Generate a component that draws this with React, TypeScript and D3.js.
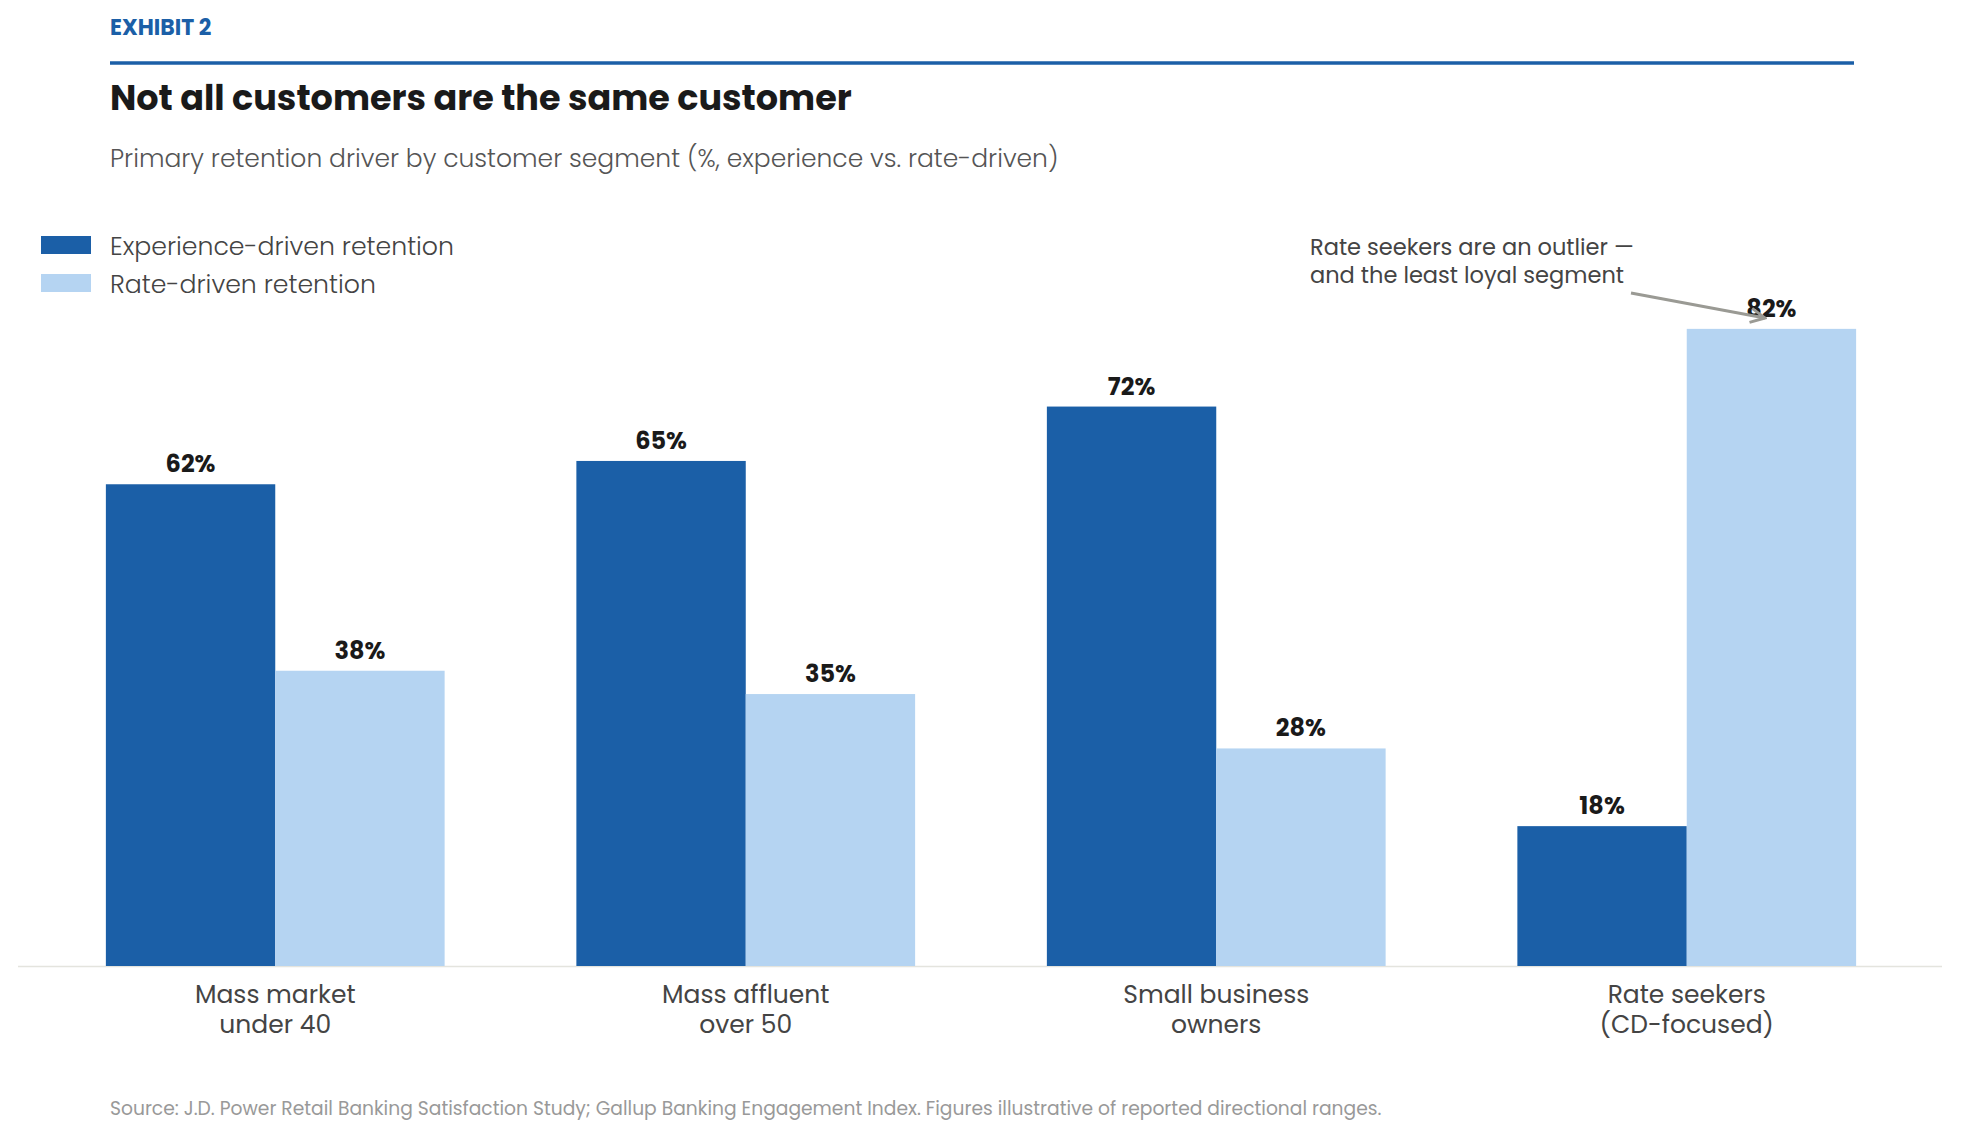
import React, { useEffect, useRef } from "react";
import * as d3 from "d3";

// data
const categories = ["Mass market|under 40", "Mass affluent|over 50", "Small business|owners", "Rate seekers|(CD-focused)"];
const seriesNames = ["Experience-driven retention", "Rate-driven retention"];
const experienceDriven = [62, 65, 72, 18];
const rateDriven = [38, 35, 28, 82];
const annotationLines = ["Rate seekers are an outlier \u2014", "and the least loyal segment"];

const W = 1961;
const H = 1138;
const FONT = "Poppins, Inter, 'Open Sans', sans-serif";
const DARK = "#1b5fa7";
const LIGHT = "#b5d4f2";

const App = () => {
  const ref = useRef<SVGSVGElement | null>(null);

  useEffect(() => {
    drawChart();
  }, []);

  function drawChart() {
    const svg = d3.select(ref.current);
    svg.selectAll("*").remove();

    // header
    svg.append("text").attr("x", 110).attr("y", 35).text("EXHIBIT 2")
      .attr("font-family", FONT).attr("font-size", 22).attr("font-weight", 700).attr("fill", DARK);
    svg.append("line").attr("x1", 110).attr("x2", 1854).attr("y1", 63).attr("y2", 63)
      .attr("stroke", DARK).attr("stroke-width", 3.5);
    svg.append("text").attr("x", 110).attr("y", 110).text("Not all customers are the same customer")
      .attr("font-family", FONT).attr("font-size", 35).attr("font-weight", 700).attr("fill", "#1a1a1a");
    svg.append("text").attr("x", 110).attr("y", 167)
      .text("Primary retention driver by customer segment (%, experience vs. rate-driven)")
      .attr("font-family", FONT).attr("font-size", 25).attr("font-weight", 300).attr("fill", "#555");

    // legend
    const colors = [DARK, LIGHT];
    seriesNames.forEach((name, i) => {
      svg.append("rect").attr("x", 41).attr("y", 236 + i * 38).attr("width", 50).attr("height", 18).attr("fill", colors[i]);
      svg.append("text").attr("x", 110).attr("y", 255 + i * 38).text(name)
        .attr("font-family", FONT).attr("font-size", 25.2).attr("font-weight", 300).attr("fill", "#444");
    });

    // scales
    const x0 = d3.scaleBand().domain(categories).range([40, 1922]).paddingInner(0.28).paddingOuter(0.14);
    const x1 = d3.scaleBand().domain(seriesNames).range([0, x0.bandwidth()]);
    const y = d3.scaleLinear().domain([0, 100]).range([966, 189]);

    svg.append("line").attr("x1", 18).attr("x2", 1942).attr("y1", y(0) + 0.5).attr("y2", y(0) + 0.5)
      .attr("stroke", "#e4e4de").attr("stroke-width", 1.5);

    const rows = categories.map((c, i) => ({ c, vals: [experienceDriven[i], rateDriven[i]] }));
    const g = svg.selectAll(".grp").data(rows).enter().append("g")
      .attr("transform", (d) => `translate(${x0(d.c)},0)`);

    g.selectAll("rect").data((d) => d.vals.map((v, j) => ({ v, s: seriesNames[j], j })))
      .enter().append("rect")
      .attr("x", (d) => x1(d.s) as number)
      .attr("y", (d) => y(d.v))
      .attr("width", x1.bandwidth())
      .attr("height", (d) => y(0) - y(d.v))
      .attr("fill", (d) => colors[d.j]);

    g.selectAll(".val").data((d) => d.vals.map((v, j) => ({ v, s: seriesNames[j] })))
      .enter().append("text")
      .attr("x", (d) => (x1(d.s) as number) + x1.bandwidth() / 2)
      .attr("y", (d) => y(d.v) - 12)
      .attr("text-anchor", "middle")
      .attr("font-family", FONT).attr("font-size", 24).attr("font-weight", 700).attr("fill", "#1a1a1a")
      .text((d) => d.v + "%");

    // category labels, one text per line
    g.each(function (d) {
      const lines = d.c.split("|");
      lines.forEach((ln, k) => {
        d3.select(this).append("text")
          .attr("x", x0.bandwidth() / 2).attr("y", 1003 + k * 30)
          .attr("text-anchor", "middle")
          .attr("font-family", FONT).attr("font-size", 25).attr("font-weight", 400).attr("fill", "#444")
          .text(ln);
      });
    });

    // annotation
    annotationLines.forEach((ln, k) => {
      svg.append("text").attr("x", 1310).attr("y", 255 + k * 28).text(ln)
        .attr("font-family", FONT).attr("font-size", 22.5).attr("fill", "#444");
    });
    svg.append("defs").append("marker").attr("id", "arr")
      .attr("viewBox", "0 0 10 10").attr("refX", 9).attr("refY", 5)
      .attr("markerWidth", 6).attr("markerHeight", 6).attr("orient", "auto")
      .append("path").attr("d", "M1,1 L9,5 L1,9").attr("fill", "none").attr("stroke", "#9a9a94").attr("stroke-width", 1.6);
    svg.append("line").attr("x1", 1631).attr("y1", 293).attr("x2", 1765).attr("y2", 318)
      .attr("stroke", "#9a9a94").attr("stroke-width", 3).attr("marker-end", "url(#arr)");

    // source
    svg.append("text").attr("x", 110).attr("y", 1115)
      .text("Source: J.D. Power Retail Banking Satisfaction Study; Gallup Banking Engagement Index. Figures illustrative of reported directional ranges.")
      .attr("font-family", FONT).attr("font-size", 18.7).attr("fill", "#999");
  }

  return (
    <svg ref={ref} width={W} height={H}
      style={{ position: "absolute", left: 0, top: 0, background: "#fff", display: "block" }} />
  );
};

export default App;
